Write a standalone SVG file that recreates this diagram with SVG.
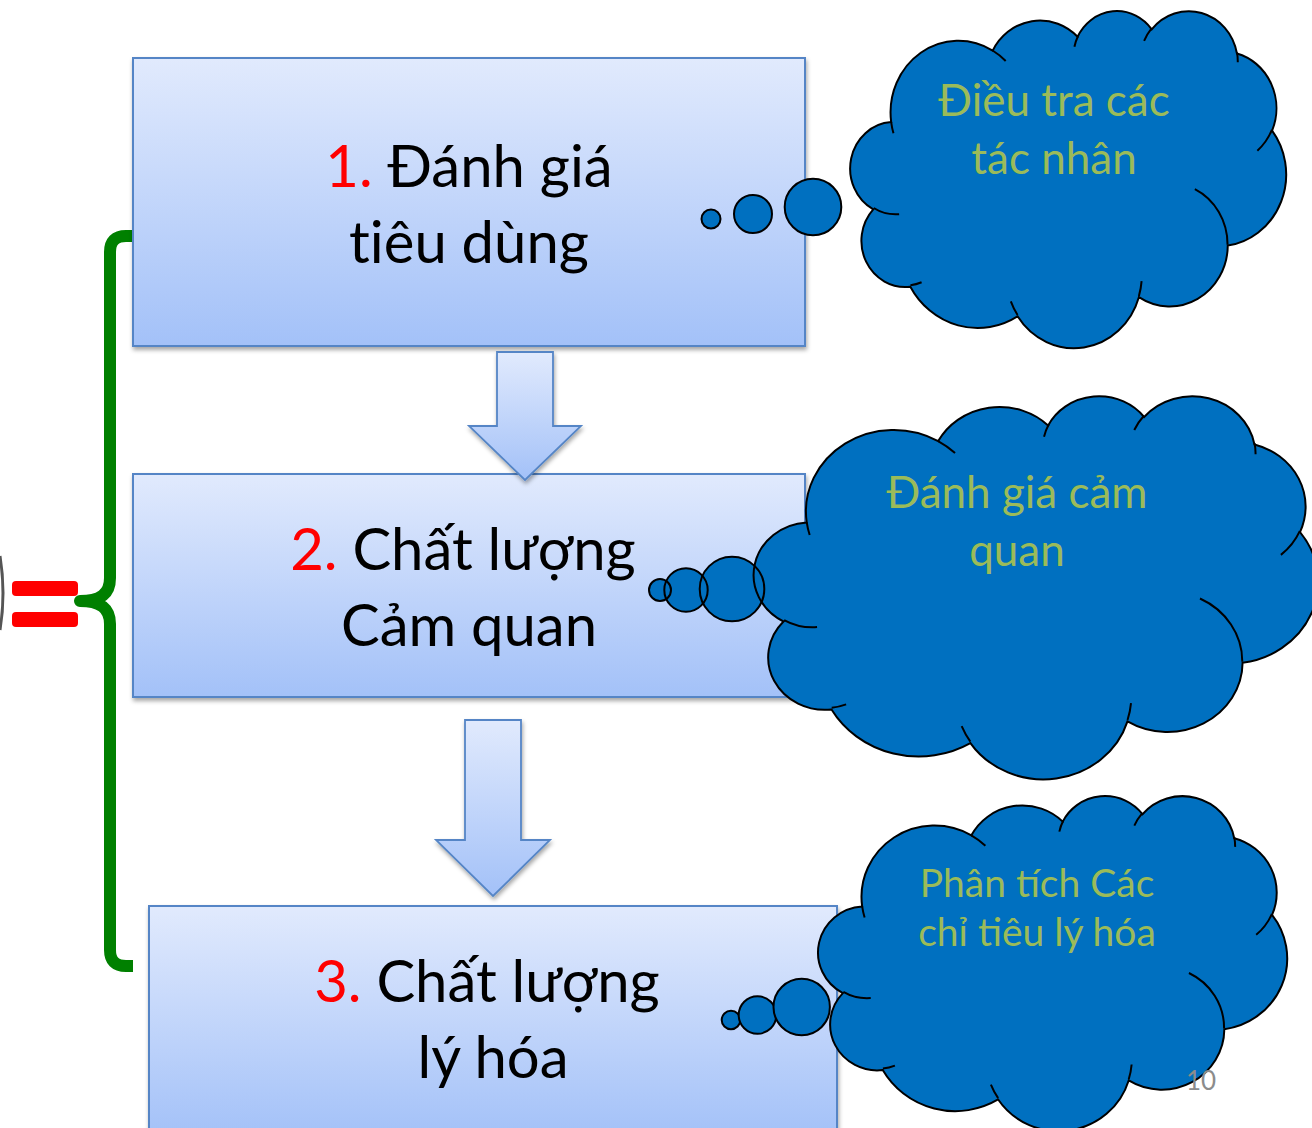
<svg xmlns="http://www.w3.org/2000/svg" xmlns:xlink="http://www.w3.org/1999/xlink" width="1312" height="1128" viewBox="0 0 1312 1128">
<style>
.box{fill:url(#boxGrad);stroke:#5585c6;stroke-width:2;filter:url(#shadow)}
.arrow{fill:url(#boxGrad);stroke:#5585c6;stroke-width:1.8;filter:url(#shadow)}
.btxt{font-family:Lato,"Noto Sans","Liberation Sans",sans-serif;font-size:58px;fill:#000;text-anchor:middle;font-variant-ligatures:none}
.num{fill:#ff0000}
.ctxt{font-family:Lato,"Noto Sans","Liberation Sans",sans-serif;fill:#9bbb59;text-anchor:middle}
.cfill{fill:#0070c0;stroke:none}
.cline{fill:none;stroke:#000;stroke-width:2}
.bub{fill:#0070c0;stroke:#000;stroke-width:2}
.bubf{fill:#0070c0;stroke:none}
.bubs{fill:none;stroke:#000;stroke-width:2}
.brace{fill:none;stroke:#008000;stroke-width:12;stroke-linejoin:round}
.eq{fill:#ff0000}
.pg{font-family:Lato,"Noto Sans","Liberation Sans",sans-serif;font-size:26px;fill:#8c8c8c}
</style>
<defs>
<linearGradient id="boxGrad" x1="0" y1="0" x2="0" y2="1">
<stop offset="0" stop-color="#e1eafd"/>
<stop offset="1" stop-color="#a3c1f8"/>
</linearGradient>
<filter id="shadow" x="-5%" y="-5%" width="115%" height="120%">
<feDropShadow dx="1" dy="3" stdDeviation="2" flood-color="#000" flood-opacity="0.35"/>
</filter>
<path id="cloudBody" vector-effect="non-scaling-stroke" d="M3900,14370 A6753,9190 0 0 1 14005,5202 A5333,7267 0 0 1 22456,3432 A4365,5945 0 0 1 29833,2481 A4857,6595 0 0 1 38318,5576 A5333,7273 0 0 1 41818,15460 A6775,9220 0 0 1 37404,30203 A5785,7867 0 0 1 28556,36813 A6752,9215 0 0 1 16481,39264 A7720,10543 0 0 1 5805,35470 A4360,5918 0 0 1 2114,25548 A4345,5945 0 0 1 3900,14370 Z"/>
<path id="cloudCreases" vector-effect="non-scaling-stroke" d="M4693,26177 A4345,5945 0 0 1 2160,25380 M6928,34899 A4360,5918 0 0 1 5820,35281 M16478,39090 A6752,9215 0 0 1 15810,37350 M28827,34751 A6752,9215 0 0 1 28560,36660 M34129,22954 A5785,7867 0 0 1 37380,30090 M41798,15354 A5333,7273 0 0 1 40350,18030 M38324,5426 A4857,6595 0 0 1 38401,6690 M29078,3952 A4857,6595 0 0 1 29820,2340 M22141,4720 A4365,5945 0 0 1 22500,3330 M14000,5192 A6753,9190 0 0 1 15300,6541 M4127,15789 A6753,9190 0 0 1 3900,14370"/>
</defs>
<rect width="1312" height="1128" fill="#ffffff"/>

<g id="fragment-left">
<path d="M0,556 Q6,593 0,630" fill="none" stroke="#555555" stroke-width="3"/>
</g>

<g id="equals">
<rect class="eq" x="12" y="581" width="66" height="15" rx="4"/>
<rect class="eq" x="12" y="612" width="66" height="15" rx="4"/>
</g>

<g id="brace">
<path class="brace" d="M133,236 H126 Q110,236 110,252 V578 C110,594 100,601 80,601 C100,601 110,608 110,624 V950 Q110,966 126,966 H133"/>
</g>

<g id="box1">
<rect class="box" x="133" y="58" width="672" height="288"/>
<text class="btxt" x="469" y="187"><tspan class="num">1.</tspan> Đánh giá</text>
<text class="btxt" x="469" y="263">tiêu dùng</text>
</g>

<g id="box2">
<rect class="box" x="133" y="474" width="672" height="223"/>
<text class="btxt" x="463" y="570"><tspan class="num">2.</tspan> Chất lượng</text>
<text class="btxt" x="469" y="646">Cảm quan</text>
</g>

<g id="box3">
<rect class="box" x="149" y="906" width="688" height="232"/>
<text class="btxt" x="487" y="1002"><tspan class="num">3.</tspan> Chất lượng</text>
<text class="btxt" x="493" y="1078">lý hóa</text>
</g>

<g id="connectors">
<polygon class="arrow" points="497,352 553,352 553,426 581,426 525,480 469,426 497,426"/>
<polygon class="arrow" points="465,720 521,720 521,840 550,840 493,896 436,840 465,840"/>
</g>

<g id="cloud1">
<circle class="bub" cx="711" cy="219" r="9.5"/>
<circle class="bub" cx="753" cy="214" r="19"/>
<circle class="bub" cx="813" cy="207" r="28.3"/>
<g transform="translate(852,10) scale(0.010046,0.0078009)">
<use xlink:href="#cloudBody" class="cfill"/>
<use xlink:href="#cloudBody" class="cline"/>
<use xlink:href="#cloudCreases" class="cline"/>
</g>
<text class="ctxt" font-size="44" x="1054" y="116">Điều tra các</text>
<text class="ctxt" font-size="44" x="1054" y="174">tác nhân</text>
</g>

<g id="cloud2">
<circle class="bubf" cx="660" cy="590" r="11"/>
<circle class="bubf" cx="686" cy="590" r="21.7"/>
<circle class="bubf" cx="732" cy="589" r="32.3"/>
<g transform="translate(756,395) scale(0.013009,0.0088657)">
<use xlink:href="#cloudBody" class="cfill"/>
</g>
<circle class="bubs" cx="660" cy="590" r="11"/>
<circle class="bubs" cx="686" cy="590" r="21.7"/>
<circle class="bubs" cx="732" cy="589" r="32.3"/>
<g transform="translate(756,395) scale(0.013009,0.0088657)">
<use xlink:href="#cloudBody" class="cline"/>
<use xlink:href="#cloudCreases" class="cline"/>
</g>
<text class="ctxt" font-size="44" x="1017" y="508">Đánh giá cảm</text>
<text class="ctxt" font-size="44" x="1017" y="566">quan</text>
</g>

<g id="cloud3">
<circle class="bub" cx="731" cy="1020" r="9.3"/>
<circle class="bub" cx="757.5" cy="1015" r="18.8"/>
<circle class="bub" cx="801.7" cy="1007" r="28.2"/>
<g transform="translate(820,795) scale(0.01081,0.0077546)">
<use xlink:href="#cloudBody" class="cfill"/>
<use xlink:href="#cloudBody" class="cline"/>
<use xlink:href="#cloudCreases" class="cline"/>
</g>
<text class="ctxt" font-size="39" x="1037" y="897">Phân tích Các</text>
<text class="ctxt" font-size="39" x="1037" y="946">chỉ tiêu lý hóa</text>
</g>

<g id="page-number">
<text class="pg" x="1186" y="1090">10</text>
</g>
</svg>
